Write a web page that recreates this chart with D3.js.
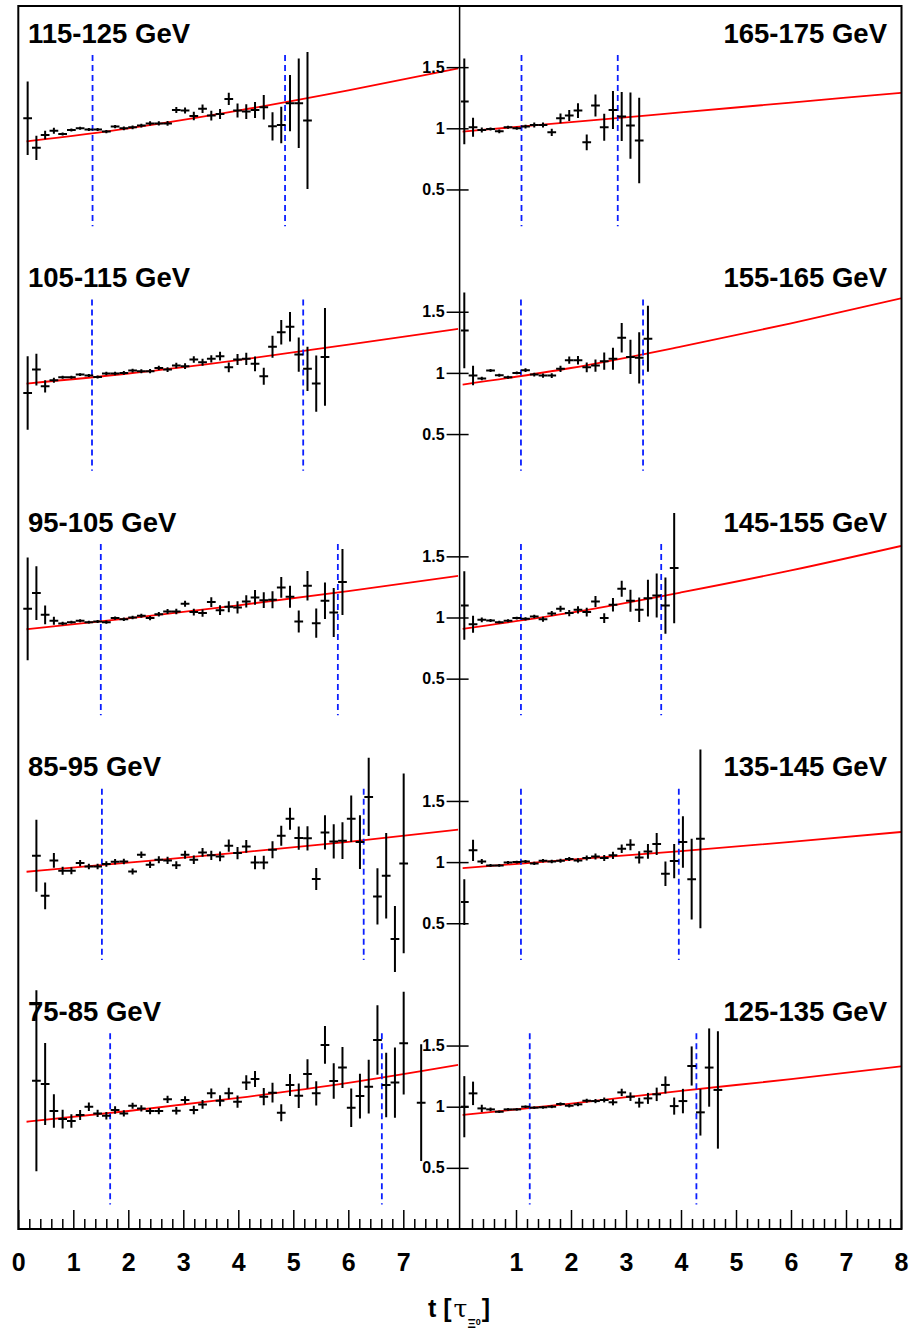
<!DOCTYPE html>
<html>
<head>
<meta charset="utf-8">
<script src="https://cdn.jsdelivr.net/npm/d3@7"></script>
<style>
  body { margin: 0; background: #fff; }
  svg { display: block; }
  text { font-family: "Liberation Sans", Arial, Helvetica, sans-serif; font-weight: bold; fill: #000; }
</style>
</head>
<body>
<svg id="chart" width="914" height="1330"></svg>
<script>
// ---- data ----
const binWidth = 0.159;          // bin spacing in t [tau]
const firstBinLeft = 0.17;       // first bin centre, left column
const firstBinRight = 0.06;      // first bin centre, right column

const labels = ["115-125 GeV", "165-175 GeV", "105-115 GeV", "155-165 GeV", "95-105 GeV",
                "145-155 GeV", "85-95 GeV", "135-145 GeV", "75-85 GeV", "125-135 GeV"];

const vals_115_125 = [1.082,0.84,0.945,0.98,0.953,0.986,1.0,0.99,0.99,0.973,1.014,1.0,1.008,1.022,1.04,1.04,1.04,1.15,1.145,1.10,1.16,1.104,1.117,1.24,1.145,1.137,1.15,1.172,1.016,1.027,1.205,1.205,1.063];
const errs_115_125 = [0.30,0.10,0.035,0.025,0.012,0.012,0.012,0.012,0.012,0.014,0.014,0.015,0.015,0.016,0.017,0.018,0.02,0.025,0.025,0.035,0.035,0.04,0.04,0.05,0.057,0.06,0.065,0.1,0.116,0.15,0.23,0.366,0.56];

const vals_165_175 = [1.22,1.008,0.986,0.995,0.975,1.008,1.0,1.014,1.027,1.027,0.967,1.082,1.104,1.145,0.885,1.186,1.008,1.15,1.096,1.022,0.9];
const errs_165_175 = [0.35,0.078,0.02,0.012,0.015,0.012,0.012,0.015,0.02,0.02,0.03,0.04,0.045,0.06,0.065,0.09,0.11,0.155,0.2,0.27,0.35];

const vals_105_115 = [0.836,1.027,0.89,0.94,0.964,0.964,0.986,0.978,0.967,0.995,0.995,1.0,1.019,1.014,1.014,1.041,1.027,1.06,1.055,1.11,1.087,1.115,1.137,1.046,1.11,1.115,1.074,0.973,1.213,1.333,1.377,1.15,1.033,0.913,1.131];
const errs_105_115 = [0.30,0.13,0.05,0.02,0.012,0.012,0.012,0.012,0.012,0.014,0.014,0.015,0.015,0.016,0.017,0.018,0.02,0.022,0.024,0.026,0.028,0.03,0.035,0.04,0.045,0.05,0.06,0.07,0.09,0.10,0.12,0.14,0.18,0.23,0.40];

const vals_155_165 = [1.347,0.978,0.954,1.019,0.981,0.964,1.0,1.022,0.986,0.978,0.978,1.033,1.104,1.104,1.046,1.06,1.096,1.115,1.287,1.131,1.123,1.279];
const errs_155_165 = [0.31,0.08,0.015,0.012,0.012,0.012,0.012,0.015,0.015,0.018,0.02,0.025,0.03,0.035,0.04,0.05,0.07,0.09,0.12,0.14,0.21,0.27];

const vals_95_105 = [1.071,1.2,1.022,0.973,0.951,0.962,0.973,0.962,0.967,0.962,0.995,0.986,1.0,1.014,0.995,1.027,1.049,1.049,1.112,1.044,1.036,1.126,1.06,1.087,1.082,1.131,1.164,1.142,1.145,1.246,1.169,0.967,1.26,0.954,1.137,1.041,1.29];
const errs_95_105 = [0.42,0.22,0.077,0.033,0.015,0.012,0.012,0.012,0.012,0.013,0.014,0.015,0.015,0.016,0.017,0.018,0.02,0.022,0.025,0.027,0.03,0.04,0.04,0.045,0.05,0.05,0.06,0.065,0.07,0.085,0.09,0.09,0.12,0.12,0.15,0.2,0.27];

const vals_145_155 = [1.098,0.945,0.981,0.975,0.962,0.973,0.995,0.989,1.008,0.986,1.033,1.071,1.036,1.063,1.044,1.131,0.995,1.104,1.235,1.137,1.063,1.158,1.18,1.098,1.404];
const errs_145_155 = [0.28,0.07,0.02,0.012,0.012,0.012,0.012,0.013,0.015,0.02,0.02,0.025,0.025,0.03,0.035,0.045,0.04,0.055,0.065,0.09,0.1,0.15,0.18,0.23,0.45];

const vals_85_95 = [null,1.052,0.724,1.014,0.929,0.929,0.992,0.964,0.964,0.984,1.003,1.005,0.923,1.06,0.978,1.019,1.014,0.975,1.06,1.019,1.079,1.055,1.046,1.134,1.074,1.128,0.997,0.997,1.101,1.216,1.355,1.197,1.194,0.861,1.243,1.169,1.175,1.355,1.164,1.533,0.719,0.888,0.372,0.989];
const errs_85_95 = [null,0.295,0.11,0.06,0.033,0.028,0.025,0.022,0.022,0.022,0.022,0.023,0.024,0.026,0.027,0.028,0.03,0.031,0.033,0.035,0.036,0.038,0.04,0.05,0.05,0.052,0.055,0.055,0.07,0.082,0.09,0.095,0.10,0.09,0.14,0.14,0.15,0.19,0.22,0.32,0.23,0.35,0.27,0.735];

const vals_135_145 = [0.673,1.096,1.005,0.973,0.973,0.997,1.0,1.005,0.989,1.011,1.005,1.011,1.025,1.014,1.033,1.046,1.033,1.055,1.109,1.142,1.038,1.087,1.148,0.904,1.008,1.164,0.86,1.19];
const errs_135_145 = [0.187,0.086,0.02,0.012,0.012,0.012,0.012,0.012,0.013,0.014,0.015,0.016,0.017,0.018,0.02,0.025,0.025,0.03,0.035,0.045,0.05,0.06,0.09,0.1,0.14,0.21,0.33,0.73];

const vals_75_85 = [null,1.213,1.186,0.964,0.899,0.883,0.932,1.0,0.945,0.926,0.973,0.945,1.008,0.986,0.964,0.964,1.06,0.967,1.055,0.973,1.019,1.109,1.049,1.109,1.041,1.197,1.227,1.082,1.115,0.951,1.178,1.09,1.268,1.109,1.505,1.21,1.32,0.992,1.087,1.164,1.546,1.178,1.197,1.519,null,1.033];
const errs_75_85 = [null,0.74,0.335,0.137,0.077,0.055,0.04,0.035,0.03,0.03,0.03,0.025,0.025,0.025,0.025,0.025,0.03,0.03,0.03,0.035,0.035,0.04,0.045,0.045,0.05,0.06,0.065,0.07,0.08,0.07,0.09,0.1,0.12,0.1,0.154,0.146,0.168,0.157,0.183,0.22,0.284,0.264,0.287,0.42,null,0.478];

const vals_125_135 = [1.0,1.109,0.986,0.978,0.959,0.978,0.978,1.0,0.992,0.995,1.0,1.022,1.008,1.019,1.049,1.046,1.055,1.036,1.117,1.082,1.033,1.068,1.101,1.178,1.005,1.046,1.333,0.954,1.32,1.137];
const errs_125_135 = [0.25,0.096,0.03,0.015,0.01,0.01,0.01,0.01,0.01,0.011,0.012,0.013,0.014,0.015,0.016,0.017,0.02,0.025,0.03,0.035,0.04,0.045,0.055,0.07,0.07,0.1,0.16,0.19,0.32,0.48];

// fitted curves, [t, value] read at a few t
const fit_115_125 = [[0.15,0.893],[2,1.0],[4,1.145],[6,1.31],[8,1.49]];
const fit_165_175 = [[0.03,0.973],[2,1.05],[4,1.13],[6,1.21],[8,1.29]];
const fit_105_115 = [[0.15,0.913],[2,0.995],[4,1.105],[6,1.232],[8,1.36]];
const fit_155_165 = [[0.03,0.904],[2,1.04],[4,1.215],[6,1.405],[8,1.61]];
const fit_95_105  = [[0.15,0.904],[2,0.993],[4,1.10],[6,1.215],[8,1.34]];
const fit_145_155 = [[0.03,0.907],[2,1.04],[4,1.205],[6,1.385],[8,1.585]];
const fit_85_95   = [[0.15,0.921],[2,0.995],[4,1.077],[6,1.165],[8,1.265]];
const fit_135_145 = [[0.03,0.951],[2,1.02],[4,1.09],[6,1.165],[8,1.246]];
const fit_75_85   = [[0.15,0.877],[2,0.965],[4,1.072],[6,1.195],[8,1.342]];
const fit_125_135 = [[0.03,0.932],[2,1.025],[4,1.13],[6,1.225],[8,1.33]];

// fit range cuts (blue dashed)
const cuts = [[1.35,4.85],[1.10,2.85],[1.34,5.18],[1.09,3.31],[1.50,5.81],
              [1.09,3.64],[1.52,6.28],[1.09,3.96],[1.67,6.61],[1.25,4.28]];
const cutSpan = [0.2, 1.6];

const yTicks = [0.5, 1, 1.5];

const panelVals = [vals_115_125, vals_165_175, vals_105_115, vals_155_165, vals_95_105,
                   vals_145_155, vals_85_95, vals_135_145, vals_75_85, vals_125_135];
const panelErrs = [errs_115_125, errs_165_175, errs_105_115, errs_155_165, errs_95_105,
                   errs_145_155, errs_85_95, errs_135_145, errs_75_85, errs_125_135];
const panelFits = [fit_115_125, fit_165_175, fit_105_115, fit_155_165, fit_95_105,
                   fit_145_155, fit_85_95, fit_135_145, fit_75_85, fit_125_135];

// ---- layout ----
const svg = d3.select("#chart");
svg.append("rect").attr("width", 914).attr("height", 1330).attr("fill", "#fff");

const frame = {left: 18.3, right: 901.5, top: 6, bottom: 1229};
const mid = 459.6;
const colRange = [[18.3, 458.3], [461, 901]];
const rowH = (frame.bottom - frame.top) / 5;

const xs = colRange.map(r => d3.scaleLinear().domain([0, 8]).range(r));

labels.forEach((label, k) => {
    const col = k % 2, row = Math.floor(k / 2);
    const top = frame.top + row * rowH;
    const x = xs[col];
    const y = d3.scaleLinear().domain([0, 2]).range([top + rowH, top]);
    const first = col === 0 ? firstBinLeft : firstBinRight;

    const g = svg.append("g");
    g.append("clipPath").attr("id", `clip${k}`)
        .append("rect")
        .attr("x", x.range()[0]).attr("y", top)
        .attr("width", x.range()[1] - x.range()[0]).attr("height", rowH);
    const plot = g.append("g").attr("clip-path", `url(#clip${k})`);

    const data = panelVals[k]
        .map((v, i) => ({t: first + i * binWidth, v: v, e: panelErrs[k][i]}))
        .filter(d => d.v !== null);

    // fit curve
    plot.append("path")
        .datum(panelFits[k])
        .attr("fill", "none")
        .attr("stroke", "#ff0000")
        .attr("stroke-width", 1.8)
        .attr("d", d3.line().x(d => x(d[0])).y(d => y(d[1])).curve(d3.curveMonotoneX));

    // fit range cuts
    plot.selectAll("line.cut")
        .data(cuts[k])
        .enter().append("line")
        .attr("class", "cut")
        .attr("x1", d => x(d)).attr("x2", d => x(d))
        .attr("y1", y(cutSpan[1])).attr("y2", y(cutSpan[0]))
        .attr("stroke", "#0a1eff")
        .attr("stroke-width", 1.8)
        .attr("stroke-dasharray", "6,4");

    // data points with error bars
    const pts = plot.selectAll("g.pt").data(data).enter().append("g").attr("class", "pt");
    pts.append("line")
        .attr("x1", d => x(d.t)).attr("x2", d => x(d.t))
        .attr("y1", d => y(d.v - d.e)).attr("y2", d => y(d.v + d.e))
        .attr("stroke", "#000").attr("stroke-width", 2);
    pts.append("line")
        .attr("x1", d => x(d.t - binWidth / 2)).attr("x2", d => x(d.t + binWidth / 2))
        .attr("y1", d => y(d.v)).attr("y2", d => y(d.v))
        .attr("stroke", "#000").attr("stroke-width", 2);

    // mass-window label
    g.append("text")
        .attr("x", col === 0 ? 28 : 887)
        .attr("y", top + 36.5)
        .attr("text-anchor", col === 0 ? "start" : "end")
        .style("font-size", "27.5px")
        .text(label);

    // y axis sits on the left edge of the right-hand panels
    if (col === 1) {
        const ya = svg.append("g")
            .attr("transform", `translate(${mid},0)`)
            .call(d3.axisLeft(y).tickValues(yTicks).tickSize(13).tickPadding(2).tickFormat(d => d));
        ya.select(".domain").remove();
        ya.selectAll(".tick line").attr("x1", 9).attr("stroke", "#000").attr("stroke-width", 1.5);
        ya.selectAll(".tick text").style("font-size", "16px").attr("font-family", null);
    }
});

// x axes
xs.forEach((x, col) => {
    const minor = d3.range(1, 40).map(i => i * 0.2).filter(v => Math.abs(v - Math.round(v)) > 1e-6);
    const am = svg.append("g")
        .attr("transform", `translate(0,${frame.bottom})`)
        .call(d3.axisBottom(x).tickValues(minor).tickSizeInner(-10).tickSizeOuter(0).tickFormat(""));
    am.select(".domain").remove();
    am.selectAll(".tick line").attr("stroke", "#000").attr("stroke-width", 1.5);

    const majors = col === 0 ? d3.range(0, 8) : d3.range(1, 9);
    const aM = svg.append("g")
        .attr("transform", `translate(0,${frame.bottom})`)
        .call(d3.axisBottom(x).tickValues(majors).tickSizeInner(-19).tickSizeOuter(0)
            .tickPadding(24).tickFormat(d3.format("d")));
    aM.select(".domain").remove();
    aM.selectAll(".tick line").attr("stroke", "#000").attr("stroke-width", 1.5);
    aM.selectAll(".tick text").style("font-size", "25px").attr("font-family", null);
});

// frame and divider
svg.append("rect")
    .attr("x", frame.left).attr("y", frame.top)
    .attr("width", frame.right - frame.left).attr("height", frame.bottom - frame.top)
    .attr("fill", "none").attr("stroke", "#000").attr("stroke-width", 2);
svg.append("line")
    .attr("x1", mid).attr("x2", mid).attr("y1", frame.top).attr("y2", frame.bottom)
    .attr("stroke", "#000").attr("stroke-width", 1.5);

// axis title
const title = svg.append("text").attr("x", 428).attr("y", 1317).style("font-size", "25px");
title.append("tspan").text("t [");
title.append("tspan").attr("dx", 2).style("font-weight", "normal").style("font-family", "'DejaVu Serif', serif").text("τ");
title.append("tspan").attr("dy", 11).style("font-size", "13px").text("Ξ");
title.append("tspan").attr("dy", -3).style("font-size", "9px").text("0");
title.append("tspan").attr("dy", -8).attr("dx", 1).text("]");
</script>
</body>
</html>
